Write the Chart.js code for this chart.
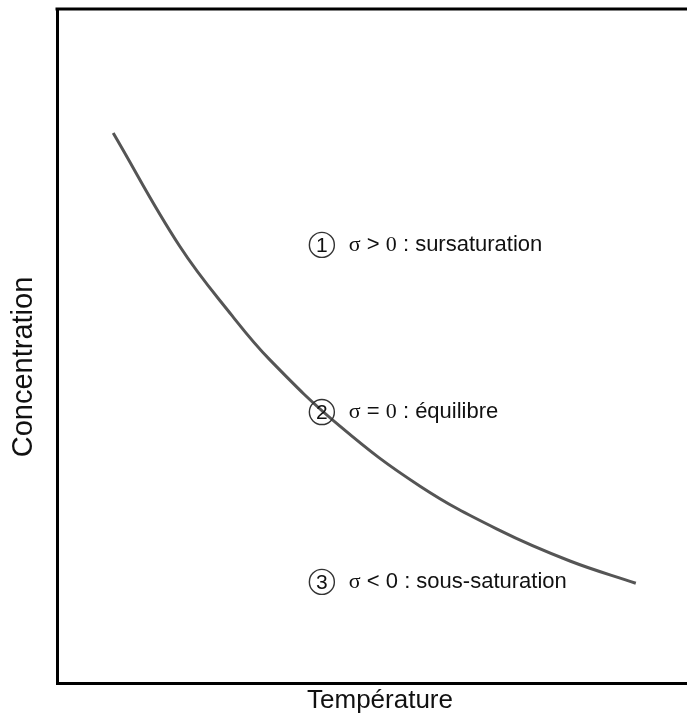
<!DOCTYPE html>
<html><head><meta charset="utf-8">
<script src="https://cdn.jsdelivr.net/npm/chart.js@4"></script>
<style>html,body{margin:0;padding:0;background:#fff;overflow:hidden}#wrap{width:703px;height:720px}</style>
</head><body><div id="wrap"><canvas id="c"></canvas></div>
<script>
// Temperature (arbitrary units) and equilibrium concentration (arbitrary units)
const temperature = [8.7, 19.0, 27.1, 33.0, 43.8, 56.2, 68.6, 79.4, 89.6];
const concentration = [81.6, 64.8, 54.5, 47.9, 38.1, 29.2, 22.6, 18.1, 14.8];
// Region annotations
const regionNumbers = ['1', '2', '3'];
const regionX = [41.0, 41.0, 41.0];
const regionY = [65.0, 40.2, 15.0];
const regionTexts = [
  [['σ', 'serif'], [' > ', 'sans'], ['0', 'serif'], [' : sursaturation', 'sans']],
  [['σ', 'serif'], [' = ', 'sans'], ['0', 'serif'], [' : équilibre', 'sans']],
  [['σ', 'serif'], [' < 0 : sous-saturation', 'sans']]
];
const xTitle = 'Température';
const yTitle = 'Concentration';

const frame = {
  id: 'frame',
  afterDraw(chart) {
    const {ctx, chartArea: a} = chart;
    ctx.save();
    ctx.strokeStyle = '#000';
    ctx.lineWidth = 3;
    ctx.beginPath();
    ctx.moveTo(a.left - 1.5, a.top);
    ctx.lineTo(a.right, a.top);
    ctx.stroke();
    // vertical axis title, centred slightly below the plot middle as in the original
    ctx.fillStyle = '#111';
    ctx.font = '29px "Liberation Sans", Arial, sans-serif';
    ctx.textAlign = 'center';
    ctx.textBaseline = 'middle';
    ctx.translate(a.left - 33, (a.top + a.bottom) / 2 + 21);
    ctx.rotate(-Math.PI / 2);
    ctx.fillText(yTitle, 0, 0);
    ctx.restore();
  }
};
const annot = {
  id: 'annot',
  afterDatasetsDraw(chart) {
    const {ctx, scales: {x, y}} = chart;
    ctx.save();
    regionNumbers.forEach((n, i) => {
      const cx = x.getPixelForValue(regionX[i]);
      const cy = y.getPixelForValue(regionY[i]);
      ctx.strokeStyle = '#333';
      ctx.lineWidth = 1.4;
      ctx.beginPath();
      ctx.arc(cx, cy, 12.5, 0, Math.PI * 2);
      ctx.stroke();
      ctx.fillStyle = '#111';
      ctx.textAlign = 'center';
      ctx.textBaseline = 'middle';
      ctx.font = '21px "Liberation Sans", Arial, sans-serif';
      ctx.fillText(n, cx, cy + 1);
      ctx.textAlign = 'left';
      let tx = cx + 27;
      regionTexts[i].forEach(([t, f]) => {
        ctx.font = f === 'serif' ? '22px "Liberation Serif", "Times New Roman", serif'
                                 : '22px "Liberation Sans", Arial, sans-serif';
        ctx.fillText(t, tx, cy);
        tx += ctx.measureText(t).width;
      });
    });
    ctx.restore();
  }
};

new Chart(document.getElementById('c'), {
  type: 'line',
  data: {
    datasets: [{
      data: temperature.map((t, i) => ({x: t, y: concentration[i]})),
      borderColor: '#555',
      borderWidth: 3,
      pointRadius: 0,
      tension: 0.4,
      fill: false
    }]
  },
  options: {
    responsive: true,
    maintainAspectRatio: false,
    animation: false,
    layout: {padding: {top: 9, left: 57, right: 0, bottom: 0}},
    plugins: {legend: {display: false}, tooltip: {enabled: false}},
    scales: {
      x: {
        type: 'linear', min: 0, max: 100,
        ticks: {display: false},
        grid: {display: false, drawTicks: false, tickLength: 0},
        border: {display: true, color: '#000', width: 3},
        title: {display: true, text: xTitle, color: '#111',
          font: {family: '"Liberation Sans", Arial, sans-serif', size: 26},
          padding: {top: 2.4, bottom: 3.4}}
      },
      y: {
        type: 'linear', min: 0, max: 100,
        ticks: {display: false},
        grid: {display: false, drawTicks: false, tickLength: 0},
        border: {display: true, color: '#000', width: 3},
        title: {display: false}
      }
    }
  },
  plugins: [frame, annot]
});
</script>
</body></html>
